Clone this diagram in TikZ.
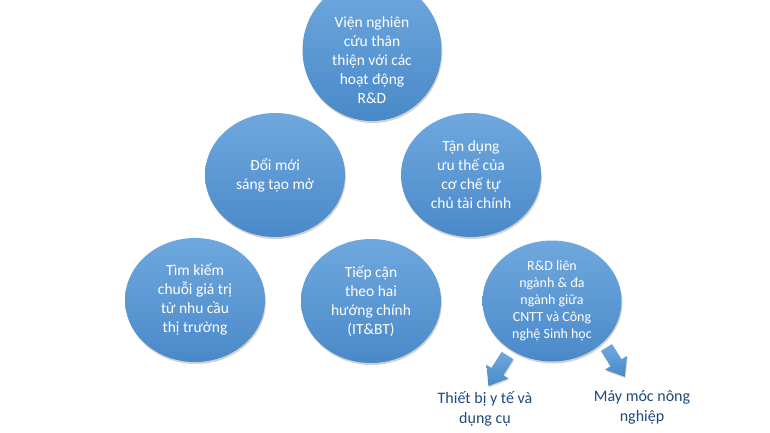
\documentclass[tikz,border=0pt]{standalone}
\usepackage{fontspec}
\setmainfont{Carlito}
\usetikzlibrary{shapes.geometric,shadows}
\definecolor{bubtop}{HTML}{6FA8DE}
\definecolor{bubbot}{HTML}{4A89C9}
\definecolor{labcol}{HTML}{1F497D}
\begin{document}
\begin{tikzpicture}[x=1pt,y=-1pt]
\tikzset{
  bubble/.style={ellipse, minimum width=140pt, minimum height=124pt, inner sep=0pt,
    top color=bubtop, bottom color=bubbot, draw=none, text=white, align=center,
    font=\fontsize{15.5}{19}\selectfont,
    drop shadow={shadow xshift=0.8pt, shadow yshift=-2pt, opacity=0.18, fill=black}},
  bubtext/.style={text=white, align=center, font=\fontsize{15.5}{19}\selectfont, inner sep=0pt},
  lab/.style={text=labcol, align=center, font=\fontsize{16}{20}\selectfont, inner sep=0pt},
  blockarrow/.style={top color=bubtop, bottom color=bubbot,
    drop shadow={shadow xshift=0.6pt, shadow yshift=-1.5pt, opacity=0.15, fill=black}}
}
\useasboundingbox (0,0) rectangle (770,433);
\clip (0,0) rectangle (770,433);
\fill[white] (0,0) rectangle (770,433);

\node[bubble, minimum width=139pt, minimum height=142pt] (top) at (372,50) {};
\node[bubtext] (toptext) at (372,60) {Viện nghiên\\cứu thân\\thiện với các\\hoạt động\\R\&D};
\node[bubble] (open) at (275,175) {Đổi mới\\sáng tạo mở};
\node[bubble] (fin) at (471,175) {Tận dụng\\ưu thế của\\cơ chế tự\\chủ tài chính};
\node[bubble] (val) at (195,300) {Tìm kiếm\\chuỗi giá trị\\từ nhu cầu\\thị trường};
\node[bubble] (itbt) at (371,301) {Tiếp cận\\theo hai\\hướng chính\\(IT\&BT)};
\node[bubble, minimum width=139pt, minimum height=121pt, font=\fontsize{14}{17}\selectfont] (rd) at (552,301) {R\&D liên\\ngành \& đa\\ngành giữa\\CNTT và Công\\nghệ Sinh học};

\node[lab] (med) at (485,409) {Thiết bị y tế và\\dụng cụ};
\node[lab] (agr) at (642,407) {Máy móc nông\\nghiệp};

\coordinate (a1) at (507.5,355.5);
\coordinate (a2) at (606.5,347.5);
\shade[blockarrow, shift={(a1)}, rotate=238]
  (0,-7) -- (19,-7) -- (19,-13) -- (36,0) -- (19,13) -- (19,7) -- (0,7) -- cycle;
\shade[blockarrow, shift={(a2)}, rotate=302]
  (0,-6.5) -- (18,-6.5) -- (18,-13) -- (34.5,0) -- (18,13) -- (18,6.5) -- (0,6.5) -- cycle;
\end{tikzpicture}
\end{document}
